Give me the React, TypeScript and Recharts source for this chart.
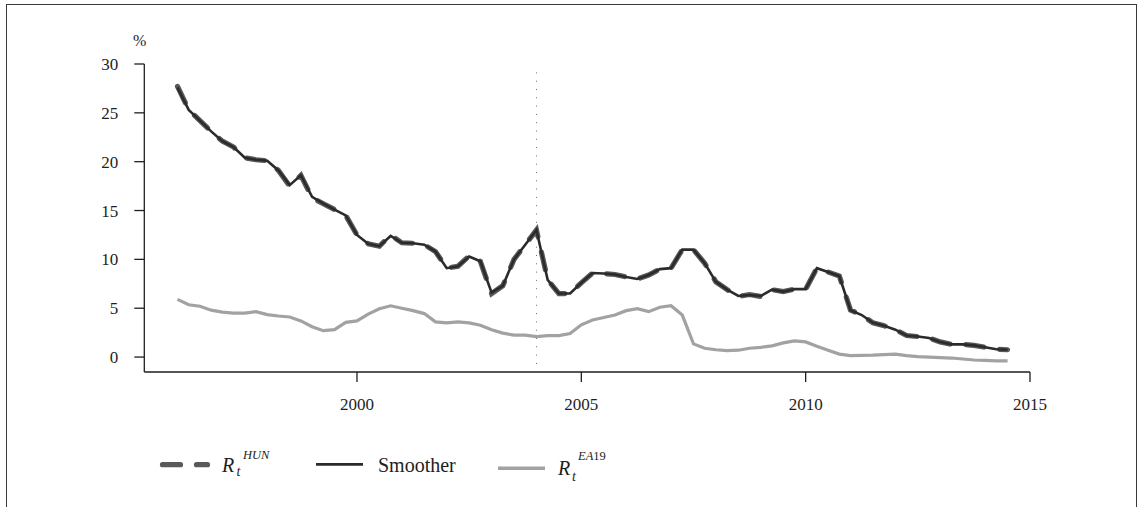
import React from "react";
import {
  LineChart,
  Line,
  XAxis,
  YAxis,
  ReferenceLine,
} from "recharts";

// Quarterly observations, 1996Q1 .. 2014Q3 (decimal years)
const quarters: number[] = [
  1996.0, 1996.25, 1996.5, 1996.75,
  1997.0, 1997.25, 1997.5, 1997.75,
  1998.0, 1998.25, 1998.5, 1998.75,
  1999.0, 1999.25, 1999.5, 1999.75,
  2000.0, 2000.25, 2000.5, 2000.75,
  2001.0, 2001.25, 2001.5, 2001.75,
  2002.0, 2002.25, 2002.5, 2002.75,
  2003.0, 2003.25, 2003.5, 2003.75,
  2004.0, 2004.25, 2004.5, 2004.75,
  2005.0, 2005.25, 2005.5, 2005.75,
  2006.0, 2006.25, 2006.5, 2006.75,
  2007.0, 2007.25, 2007.5, 2007.75,
  2008.0, 2008.25, 2008.5, 2008.75,
  2009.0, 2009.25, 2009.5, 2009.75,
  2010.0, 2010.25, 2010.5, 2010.75,
  2011.0, 2011.25, 2011.5, 2011.75,
  2012.0, 2012.25, 2012.5, 2012.75,
  2013.0, 2013.25, 2013.5, 2013.75,
  2014.0, 2014.25, 2014.5,
];

// Hungarian short rate, %
const rateHUN: number[] = [
  27.7, 25.3, 24.2, 23.1,
  22.1, 21.5, 20.4, 20.2,
  20.1, 19.1, 17.5, 18.6,
  16.3, 15.7, 15.1, 14.5,
  12.5, 11.6, 11.35, 12.5,
  11.7, 11.65, 11.5, 10.8,
  9.1, 9.3, 10.35, 9.8,
  6.5, 7.3, 10.0, 11.5,
  13.0, 7.9, 6.5, 6.5,
  7.6, 8.6, 8.55, 8.45,
  8.2, 8.0, 8.4, 9.0,
  9.1, 11.0, 11.0, 9.6,
  7.7, 6.9, 6.2, 6.4,
  6.2, 6.9, 6.7, 6.95,
  6.95, 9.1, 8.7, 8.3,
  4.8, 4.3, 3.5, 3.2,
  2.8, 2.2, 2.1, 1.95,
  1.55, 1.3, 1.3, 1.2,
  1.0, 0.8, 0.75,
];

// Smoothed estimate of the Hungarian rate, %
const rateSmoother: number[] = [
  27.6, 25.3, 24.2, 23.1,
  22.1, 21.5, 20.4, 20.2,
  20.1, 19.1, 17.6, 18.6,
  16.4, 15.7, 15.1, 14.5,
  12.5, 11.6, 11.35, 12.4,
  11.7, 11.65, 11.5, 10.8,
  9.1, 9.3, 10.3, 9.8,
  6.6, 7.3, 10.0, 11.5,
  13.0, 7.9, 6.5, 6.5,
  7.6, 8.6, 8.55, 8.45,
  8.2, 8.0, 8.4, 9.0,
  9.1, 11.0, 11.0, 9.6,
  7.7, 6.9, 6.25, 6.35,
  6.25, 6.9, 6.7, 6.95,
  6.95, 9.1, 8.7, 8.3,
  4.8, 4.3, 3.5, 3.2,
  2.8, 2.2, 2.1, 1.95,
  1.55, 1.3, 1.3, 1.2,
  1.0, 0.8, 0.75,
];

// Euro area (EA19) short rate, %
const rateEA19: number[] = [
  5.9, 5.35, 5.2, 4.8,
  4.6, 4.5, 4.5, 4.65,
  4.35, 4.2, 4.1, 3.7,
  3.1, 2.7, 2.8, 3.55,
  3.7, 4.4, 4.95, 5.25,
  5.0, 4.75, 4.45, 3.6,
  3.5, 3.6, 3.5, 3.25,
  2.8, 2.45, 2.25, 2.25,
  2.1, 2.2, 2.2, 2.4,
  3.3, 3.8, 4.05, 4.3,
  4.75, 4.95, 4.65, 5.1,
  5.25, 4.3, 1.35, 0.9,
  0.75, 0.65, 0.7, 0.9,
  1.0, 1.15, 1.45, 1.65,
  1.55, 1.1, 0.7, 0.3,
  0.15, 0.18, 0.2, 0.25,
  0.3, 0.15, 0.05, 0.0,
  -0.05, -0.1, -0.2, -0.3,
  -0.35, -0.4, -0.4,
];

const xTicks: number[] = [2000, 2005, 2010, 2015];
const yTicks: number[] = [0, 5, 10, 15, 20, 25, 30];
const accessionYear = 2004;
const unitLabel = "%";
const smootherLabel = "Smoother";

const data = quarters.map((t, i) => ({
  t,
  hun: rateHUN[i],
  smoother: rateSmoother[i],
  ea19: rateEA19[i],
}));

const FONT = '"Liberation Serif", "Times New Roman", serif';
const INK = "#1e1e1e";
const DASH_COLOR = "#595959";
const SMOOTH_COLOR = "#2b2b2b";
const EA_COLOR = "#a2a2a2";

function LegendOverlay() {
  return (
    <svg
      width={1142}
      height={507}
      style={{ position: "absolute", left: 0, top: 0, pointerEvents: "none" }}
      fontFamily={FONT}
      fill={INK}
    >
      <text x={133} y={46} fontSize={16}>
        {unitLabel}
      </text>

      {/* dashed series key */}
      <line
        x1={162.5}
        x2={207.5}
        y1={464.7}
        y2={464.7}
        stroke={DASH_COLOR}
        strokeWidth={5.2}
        strokeDasharray="18 16"
        strokeLinecap="round"
      />
      <text x={222} y={472} fontSize={20} fontStyle="italic">R</text>
      <text x={236.5} y={476} fontSize={14} fontStyle="italic">t</text>
      <text x={243} y={459} fontSize={12.5} fontStyle="italic">HUN</text>

      {/* smoother key */}
      <line x1={316} x2={363} y1={464.3} y2={464.3} stroke={SMOOTH_COLOR} strokeWidth={2.8} />
      <text x={378} y={472} fontSize={20}>{smootherLabel}</text>

      {/* euro area key */}
      <line x1={498} x2={545} y1={468.3} y2={468.3} stroke={EA_COLOR} strokeWidth={3.4} />
      <text x={558} y={475} fontSize={20} fontStyle="italic">R</text>
      <text x={572} y={481} fontSize={14} fontStyle="italic">t</text>
      <text x={578} y={460} fontSize={12.5}>
        <tspan fontStyle="italic">EA</tspan>
        <tspan>19</tspan>
      </text>
    </svg>
  );
}

export default function App() {
  return (
    <div style={{ position: "absolute", left: 0, top: 0, width: 1142, height: 507, overflow: "hidden", background: "#fff" }}>
      <div
        style={{
          position: "absolute",
          left: 6,
          top: 3.5,
          width: 1131,
          height: 530,
          border: "1.5px solid #3a3a3a",
          boxSizing: "border-box",
        }}
      />
      <div style={{ position: "absolute", left: 0, top: 0 }}>
        <LineChart
          width={1142}
          height={507}
          data={data}
          margin={{ top: 64, right: 112, left: 0, bottom: 95 }}
        >
          <XAxis
            dataKey="t"
            type="number"
            domain={[1995.26, 2015]}
            allowDataOverflow
            ticks={xTicks}
            height={40}
            tickSize={10}
            tickMargin={16}
            axisLine={{ stroke: INK, strokeWidth: 1.3 }}
            tickLine={{ stroke: INK, strokeWidth: 1.3 }}
            tick={{ fill: INK, fontSize: 17, fontFamily: FONT }}
          />
          <YAxis
            type="number"
            domain={[-1.53, 30]}
            allowDataOverflow
            ticks={yTicks}
            width={144.3}
            tickSize={10}
            tickMargin={16}
            axisLine={{ stroke: INK, strokeWidth: 1.3 }}
            tickLine={{ stroke: INK, strokeWidth: 1.3 }}
            tick={{ fill: INK, fontSize: 17, fontFamily: FONT }}
          />
          <ReferenceLine
            segment={[
              { x: accessionYear, y: -0.7 },
              { x: accessionYear, y: 29.8 },
            ]}
            stroke="#666"
            strokeWidth={1}
            strokeDasharray="1 7.3"
          />
          <Line
            type="linear"
            dataKey="hun"
            stroke={DASH_COLOR}
            strokeWidth={5.2}
            strokeDasharray="18 16"
            strokeLinecap="round"
            dot={false}
            isAnimationActive={false}
          />
          <Line
            type="linear"
            dataKey="smoother"
            stroke={SMOOTH_COLOR}
            strokeWidth={2.6}
            dot={false}
            isAnimationActive={false}
          />
          <Line
            type="linear"
            dataKey="ea19"
            stroke={EA_COLOR}
            strokeWidth={3.2}
            dot={false}
            isAnimationActive={false}
          />
        </LineChart>
      </div>
      <LegendOverlay />
    </div>
  );
}
